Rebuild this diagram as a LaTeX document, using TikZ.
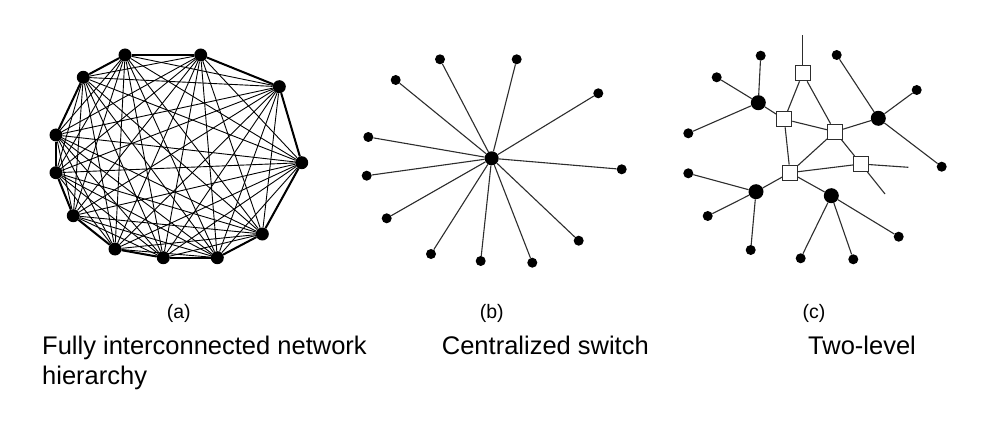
\documentclass[tikz,border=0pt]{standalone}
\usepackage{fontspec}
\setmainfont{Liberation Sans}
\definecolor{NetGray}{RGB}{45,45,45}
\usetikzlibrary{positioning, calc}

\begin{document}
\begin{tikzpicture}[x=1pt, y=-1pt,
	dot/.style={circle, fill=black, inner sep=0pt, minimum size=#1},
	dot/.default=10pt,
	switchbox/.style={draw=NetGray, fill=white, line width=1pt, inner sep=0pt, minimum size=15pt},
	link/.style={draw=NetGray, line width=1.1pt},
	sublabel/.style={anchor=base, inner sep=0pt, font=\fontsize{19.5}{23}\selectfont},
	caption/.style={anchor=base west, inner sep=0pt, font=\fontsize{25.5}{30}\selectfont}]
	\useasboundingbox (0,0) rectangle (985,422);

	% (a) fully interconnected
	\foreach \i/\x/\y in {1/125/55, 2/200.7/55, 3/279.3/86.7, 4/301.7/162.7,
		5/262.3/234, 6/217.3/257.7, 7/163.3/257.7, 8/115/249,
		9/73.3/215.7, 10/56/172.7, 11/56/135, 12/83.3/77.3}
		\node[dot=13pt] (a\i) at (\x,\y) {};
	\foreach \i in {1,...,11}{
		\pgfmathtruncatemacro{\k}{\i+1}
		\foreach \j in {\k,...,12}
			\draw[link, line width=0.9pt, draw=black] (a\i) -- (a\j);
	}
	\foreach \i in {1,...,12}{
		\pgfmathtruncatemacro{\k}{mod(\i,12)+1}
		\draw[line width=2pt] (a\i) -- (a\k);
	}

	% (b) centralized switch
	\node[dot=14pt] (b0) at (491.7,158.3) {};
	\foreach \i/\x/\y in {1/440/59.3, 2/516.7/59.3, 3/598.3/93.3, 4/621.7/169.3,
		5/578.7/240.7, 6/532.3/262.7, 7/480.7/261, 8/431/254,
		9/386.7/218.3, 10/366.7/175.7, 11/368.3/137, 12/395.7/80}{
		\node[dot] (b\i) at (\x,\y) {};
		\draw[link] (b0) -- (b\i);
	}

	% (c) two-level
	\foreach \i/\x/\y in {1/802.7/73.3, 2/784.3/119.3, 3/835/131.7, 4/861/164, 5/790/172.7}
		\node[switchbox] (s\i) at (\x,\y) {};
	\foreach \i/\x/\y in {1/758.3/102.7, 2/878.3/118.3, 3/756/191.7, 4/831.3/195.7}
		\node[dot=15pt] (h\i) at (\x,\y) {};
	\coordinate (up) at (802.7,35);
	\coordinate (outR) at (908.3,167.3);
	\coordinate (outD) at (885,194);
	\foreach \a/\b in {s1/s2, s1/s3, s2/s3, s2/s5, s3/s5, s3/s4, s5/s4,
		h1/s2, h2/s3, h3/s5, h4/s5, s1/up, s4/outR, s4/outD}
		\draw[link] (\a) -- (\b);
	\foreach \h/\n/\x/\y in {h1/1/760.7/55.7, h1/2/716.7/77.3, h1/3/688.3/133.3,
		h2/4/836.7/55, h2/5/916.7/90, h2/6/941.7/166.7,
		h3/7/688.3/173.3, h3/8/707.7/216, h3/9/750.7/250,
		h4/10/800.7/258.3, h4/11/853.3/259.3, h4/12/898.7/236.7}{
		\node[dot] (c\n) at (\x,\y) {};
		\draw[link] (\h) -- (c\n);
	}

	% labels
	\node[sublabel] (labA) at (178.7,318) {(a)};
	\node[sublabel] (labB) at (491.7,318) {(b)};
	\node[sublabel] (labC) at (814,318) {(c)};
	\node[caption] (capA) at (42,354) {Fully interconnected network};
	\node[caption] (capA2) at (42,384) {hierarchy};
	\node[caption] (capB) at (441.7,354) {Centralized switch};
	\node[caption] (capC) at (808,354) {Two-level};
\end{tikzpicture}
\end{document}
